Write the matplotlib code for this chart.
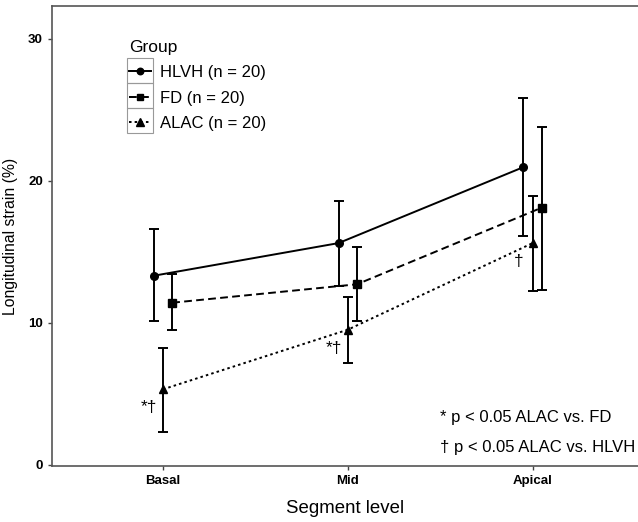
import numpy as np
import matplotlib.pyplot as plt
from matplotlib.patches import Rectangle

# ================= DATA =================

segments = ["Basal", "Mid", "Apical"]
groups = ["HLVH (n = 20)", "FD (n = 20)", "ALAC (n = 20)"]

hlvh_mean = [13.3, 15.6, 20.95]
hlvh_low = [10.1, 12.6, 16.1]
hlvh_high = [16.6, 18.6, 25.8]

fd_mean = [11.4, 12.7, 18.1]
fd_low = [9.45, 10.1, 12.3]
fd_high = [13.45, 15.3, 23.8]

alac_mean = [5.3, 9.5, 15.6]
alac_low = [2.3, 7.15, 12.25]
alac_high = [8.2, 11.8, 18.9]

sig_marks = ["*\u2020", "*\u2020", "\u2020"]

# ================= STYLE =================

plt.rcParams["font.family"] = ["Liberation Sans", "DejaVu Sans"]

series = [
    (hlvh_mean, hlvh_low, hlvh_high, -0.05, "-", "o", 5.5),
    (fd_mean, fd_low, fd_high, 0.05, (0, (4, 2.2)), "s", 5.5),
    (alac_mean, alac_low, alac_high, 0.0, (0, (1.3, 1.6)), "^", 6),
]

W, H = 638, 522
AX_L, AX_R, AX_T, AX_B = 52, 638, 6, 466

fig = plt.figure(figsize=(W / 100, H / 100), dpi=100)
ax = fig.add_axes([AX_L / W, 1 - AX_B / H, (AX_R - AX_L) / W, (AX_B - AX_T) / H])

x = np.arange(1, len(segments) + 1)

handles = []
for (m, lo, hi, dx, ls, mk, ms), name in zip(series, groups):
    m = np.array(m)
    err = [m - np.array(lo), np.array(hi) - m]
    ax.errorbar(x + dx, m, yerr=err, fmt="none", ecolor="black",
                elinewidth=1.4, capsize=3.6, capthick=1.4, zorder=2)
    h, = ax.plot(x + dx, m, color="black", linestyle=ls, linewidth=1.4,
                 marker=mk, markersize=ms, label=name, zorder=3)
    handles.append(h)

# significance marks next to ALAC points
for xi, yi, s in zip(x, alac_mean, sig_marks):
    ax.text(xi - 0.075, yi - 1.3, s, ha="center", va="center", fontsize=12.5)

ax.text(0.662, 0.1065, "* p < 0.05 ALAC vs. FD", transform=ax.transAxes,
        fontsize=12, ha="left", va="center")
ax.text(0.662, 0.041, "\u2020 p < 0.05 ALAC vs. HLVH", transform=ax.transAxes,
        fontsize=12, ha="left", va="center")

ax.set_xlim(0.4, 3.57)
ax.set_ylim(-0.1, 32.3)
ax.set_yticks([0, 10, 20, 30])
ax.set_xticks(x)
ax.set_xticklabels(segments)
ax.tick_params(labelsize=9.5, length=3, width=1, color="#444444")
for lab in ax.get_xticklabels() + ax.get_yticklabels():
    lab.set_fontweight("bold")

for side in ["left", "bottom", "top"]:
    ax.spines[side].set_color("#555555")
    ax.spines[side].set_linewidth(1.2)
ax.spines["right"].set_visible(False)

ax.set_xlabel("Segment level", fontsize=13.4, labelpad=9)
ax.set_ylabel("Longitudinal strain (%)", fontsize=11.3, labelpad=7)

ax_w = AX_R - AX_L
ax_h = AX_B - AX_T
leg = ax.legend(handles=handles, title="Group", loc="upper left",
                bbox_to_anchor=((129 - AX_L) / ax_w, (AX_B - 40) / ax_h),
                frameon=False, fontsize=12, title_fontsize=12.5,
                handlelength=1.3, handletextpad=0.55, labelspacing=0.62,
                alignment="left", borderpad=0, borderaxespad=0,
                markerscale=0.85)

# grey boxes around the legend keys
for i in range(3):
    ax.add_patch(Rectangle(((127 - AX_L) / ax_w, (AX_B - (83 + 25 * i)) / ax_h),
                           26 / ax_w, 25 / ax_h, transform=ax.transAxes,
                           fill=False, edgecolor="#999999", linewidth=0.8))

fig.savefig("out.png", dpi=100)
